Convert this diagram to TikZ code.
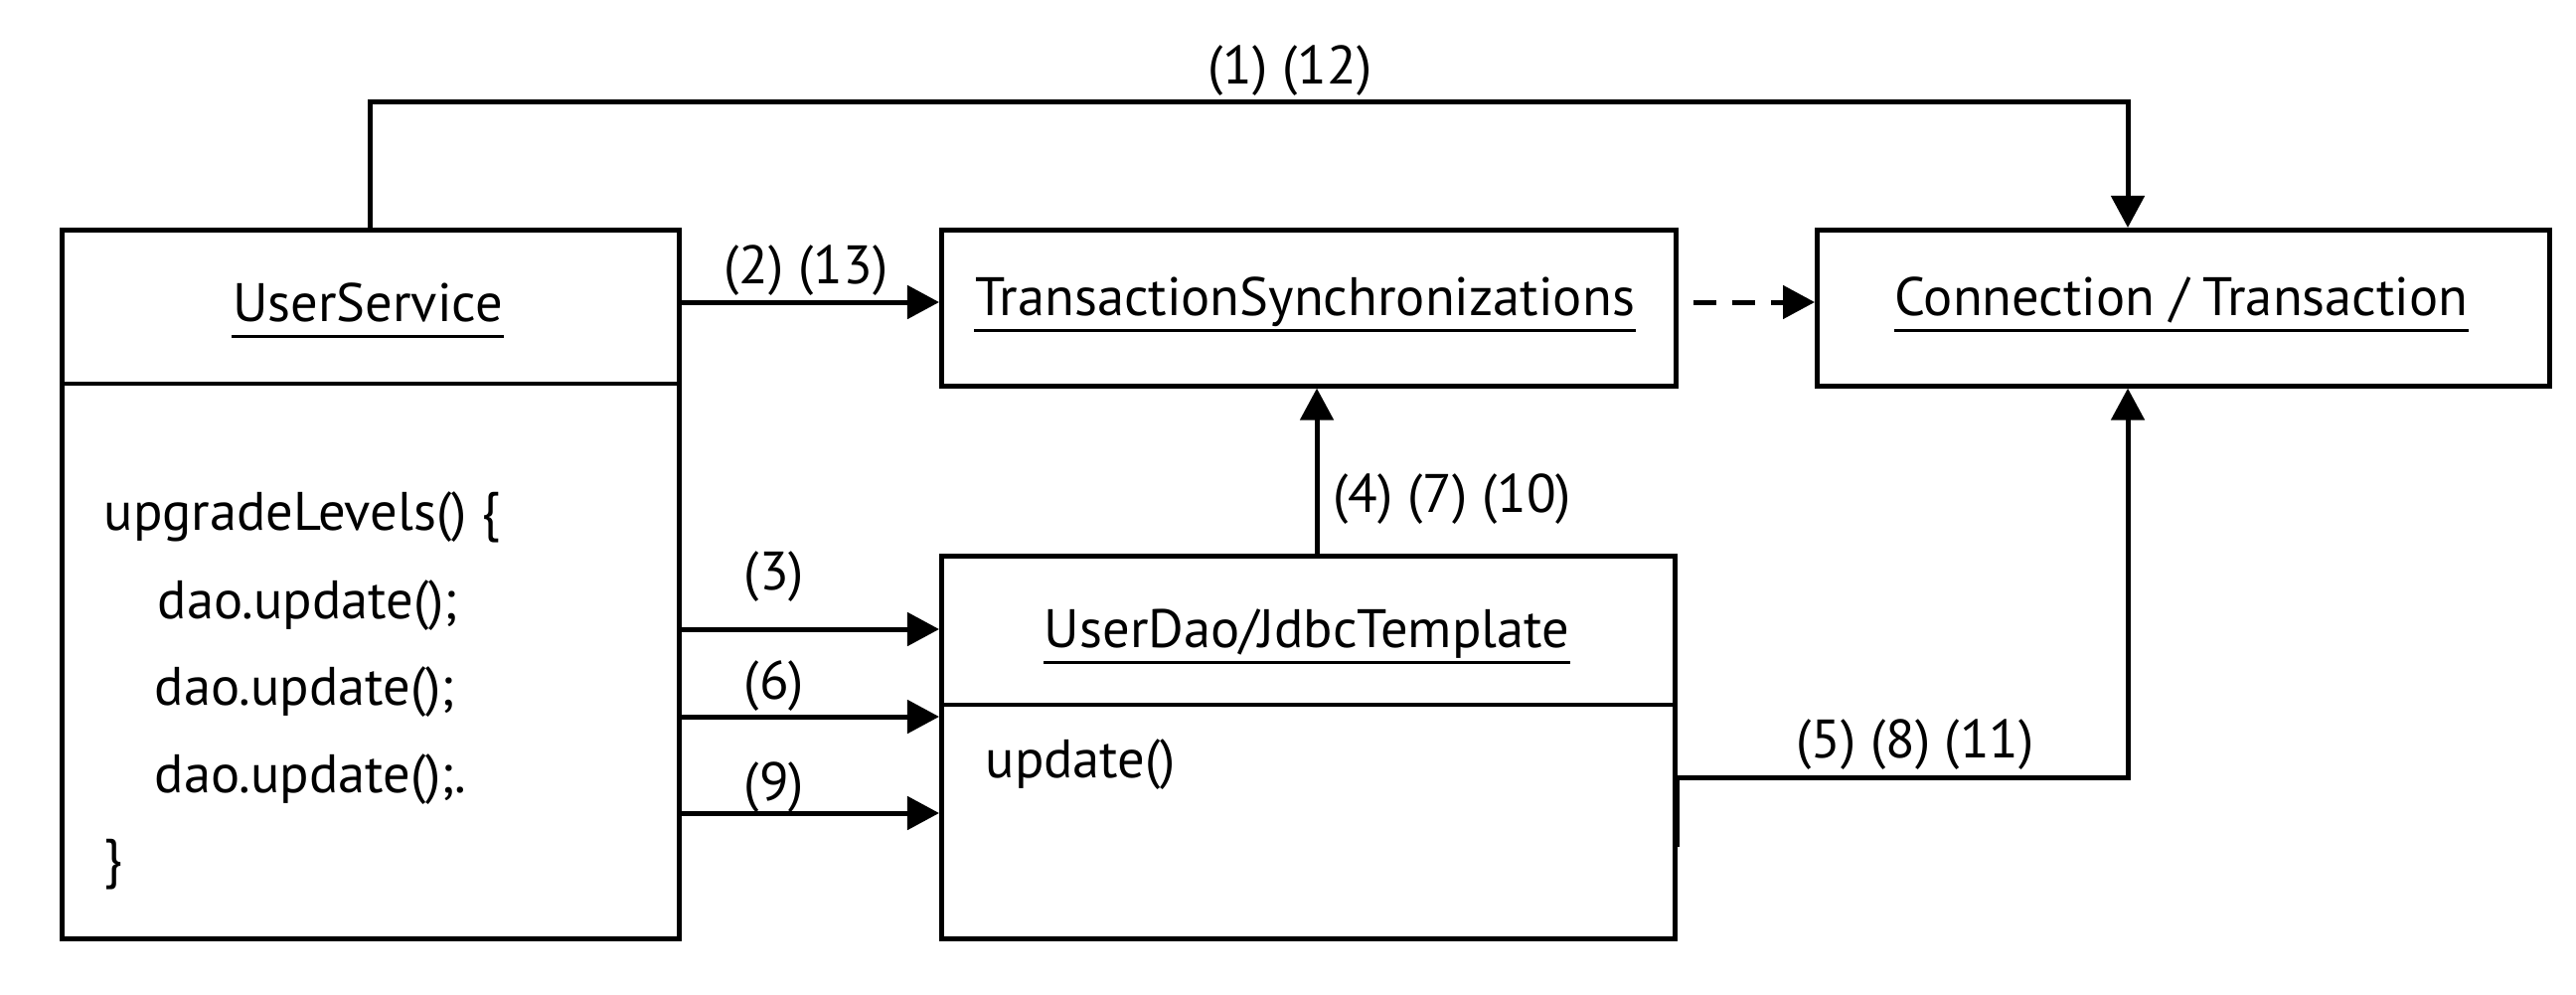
\documentclass[tikz,border=0pt]{standalone}
\usepackage{fontspec}
\setmainfont{PT Sans}
\usetikzlibrary{arrows.meta}
\begin{document}
\begin{tikzpicture}[x=0.01cm,y=-0.01cm,
  box/.style={draw, line width=0.045cm, inner sep=0, anchor=north west},
  txt/.style={inner sep=0, anchor=base, font=\fontsize{15.5pt}{18pt}\selectfont},
  txtl/.style={txt, anchor=base west},
  ul/.style={line width=0.03cm},
  conn/.style={line width=0.05cm, -{Triangle[length=0.32cm,width=0.33cm]}},
  dconn/.style={conn, dash pattern=on 0.23cm off 0.16cm, dash phase=0.24cm},
  divider/.style={line width=0.045cm}
]
\useasboundingbox (0,0) rectangle (2592,1000);
% boxes
\node[box, minimum width=6.21cm, minimum height=7.13cm] (us) at (60,229) {};
\node[box, minimum width=7.39cm, minimum height=1.57cm] (ts) at (945,229) {};
\node[box, minimum width=7.37cm, minimum height=1.57cm] (ct) at (1826,229) {};
\node[box, minimum width=7.38cm, minimum height=3.85cm] (dao) at (945,557) {};
% dividers
\draw[divider] (us.west |- 0,386) -- (us.east |- 0,386);
\draw[divider] (dao.west |- 0,709) -- (dao.east |- 0,709);
% titles
\node[txt] (usT) at (370,323) {UserService};
\node[txt] (tsT) at (1313,317) {TransactionSynchronizations};
\node[txt] (ctT) at (2195,317) {Connection / Transaction};
\node[txt] (daoT) at (1315,651) {UserDao/JdbcTemplate};
\foreach \n in {usT,tsT,ctT,daoT}{
  \draw[ul] ([yshift=-0.15cm]\n.base west) -- ([yshift=-0.15cm]\n.base east);
}
\node[txtl] (upd) at (991,782) {update()};
\node[txtl] (b1) at (104,533) {upgradeLevels() \{};
\node[txtl] (b2) at (158,622) {dao.update();};
\node[txtl] (b3) at (155,709) {dao.update();};
\node[txtl] (b4) at (155,797) {dao.update();.};
\node[txtl] (b5) at (104,882) {\}};
% labels
\node[txt] (l1) at (1298,84) {(1) (12)};
\node[txt] (l2) at (811,285) {(2) (13)};
\node[txt] (l3) at (779,593) {(3)};
\node[txt] (l6) at (779,703) {(6)};
\node[txt] (l9) at (779,805) {(9)};
\node[txtl] (l4) at (1341,515) {(4) (7) (10)};
\node[txt] (l5) at (1927,762) {(5) (8) (11)};
% connectors
\coordinate (k1) at (2141,102);
\draw[conn] (us.north) |- (k1) -- (ct.north -| k1);
\draw[conn] (us.east |- 0,304) -- (ts.west |- 0,304);
\draw[dconn] (ts.east |- 0,304) -- (ct.west |- 0,304);
\draw[conn] (us.east |- 0,633) -- (dao.west |- 0,633);
\draw[conn] (us.east |- 0,721) -- (dao.west |- 0,721);
\draw[conn] (us.east |- 0,818) -- (dao.west |- 0,818);
\draw[conn] (dao.north -| 1325,0) -- (ts.south -| 1325,0);
\coordinate (k5) at (2141,782);
\draw[conn] (dao.east |- 0,852) -- (dao.east |- k5) -- (k5) -- (ct.south -| k5);
\end{tikzpicture}
\end{document}
